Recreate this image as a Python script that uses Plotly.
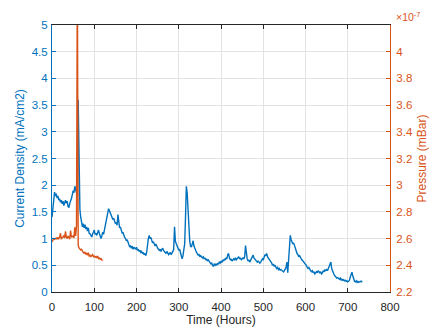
import plotly.graph_objects as go

# ---- data ----
hours_cd = list(range(0, 736, 2))
current_density = [
    1.40, 1.55, 1.75, 1.87, 1.80, 1.84, 1.76, 1.80, 1.72, 1.75,
    1.68, 1.72, 1.65, 1.70, 1.62, 1.68, 1.72, 1.66, 1.70, 1.60,
    1.58, 1.66, 1.70, 1.75, 1.82, 1.90, 1.86, 1.98, 1.92, 1.85,
    1.80, 3.60, 1.95, 1.55, 1.40, 1.30, 1.22, 1.28, 1.20, 1.26,
    1.18, 1.22, 1.14, 1.20, 1.10, 1.09, 1.05, 1.03, 1.08, 1.12,
    1.16, 1.08, 1.10, 1.06, 1.14, 1.16, 1.10, 1.04, 1.00, 1.05,
    1.12, 1.08, 1.16, 1.24, 1.30, 1.42, 1.50, 1.56, 1.52, 1.48,
    1.45, 1.40, 1.36, 1.38, 1.32, 1.28, 1.30, 1.25, 1.45, 1.26,
    1.20, 1.22, 1.14, 1.10, 1.12, 1.05, 1.02, 1.00, 0.96, 0.98,
    0.92, 0.88, 0.84, 0.86, 0.82, 0.86, 0.80, 0.84, 0.82, 0.80,
    0.84, 0.78, 0.80, 0.76, 0.78, 0.74, 0.76, 0.72, 0.74, 0.70,
    0.72, 0.68, 0.74, 0.90, 1.00, 1.06, 1.00, 1.02, 0.95, 0.92,
    0.94, 0.88, 0.86, 0.90, 0.84, 0.82, 0.80, 0.78, 0.80, 0.76,
    0.80, 0.82, 0.78, 0.76, 0.74, 0.72, 0.76, 0.74, 0.70, 0.72,
    0.74, 0.70, 0.72, 0.76, 0.80, 1.22, 0.95, 0.90, 0.86, 0.82,
    0.78, 0.80, 0.74, 0.66, 0.62, 0.68, 0.80, 0.90, 1.40, 1.98,
    1.85, 1.50, 1.20, 0.95, 0.86, 0.84, 0.90, 0.96, 0.86, 0.80,
    0.78, 0.74, 0.72, 0.69, 0.70, 0.66, 0.68, 0.66, 0.64, 0.66,
    0.62, 0.64, 0.60, 0.62, 0.58, 0.60, 0.56, 0.55, 0.53, 0.54,
    0.50, 0.48, 0.52, 0.50, 0.52, 0.50, 0.54, 0.52, 0.56, 0.54,
    0.58, 0.55, 0.60, 0.58, 0.62, 0.60, 0.64, 0.62, 0.70, 0.72,
    0.64, 0.60, 0.62, 0.58, 0.60, 0.62, 0.60, 0.64, 0.60, 0.62,
    0.64, 0.66, 0.62, 0.64, 0.60, 0.62, 0.64, 0.62, 0.66, 0.87,
    0.66, 0.62, 0.58, 0.60, 0.56, 0.60, 0.64, 0.66, 0.69, 0.64,
    0.62, 0.60, 0.58, 0.56, 0.58, 0.56, 0.54, 0.56, 0.58, 0.62,
    0.60, 0.66, 0.70, 0.68, 0.72, 0.66, 0.64, 0.62, 0.60, 0.56,
    0.54, 0.50, 0.52, 0.48, 0.50, 0.46, 0.44, 0.46, 0.42, 0.44,
    0.41, 0.42, 0.40, 0.38, 0.375, 0.40, 0.44, 0.46, 0.56, 0.36,
    0.60, 0.90, 1.06, 0.98, 0.94, 0.90, 0.92, 0.87, 0.80, 0.76,
    0.72, 0.70, 0.66, 0.68, 0.64, 0.62, 0.60, 0.58, 0.56, 0.55,
    0.52, 0.50, 0.46, 0.44, 0.46, 0.42, 0.40, 0.38, 0.40, 0.36,
    0.38, 0.34, 0.36, 0.38, 0.36, 0.40, 0.38, 0.36, 0.38, 0.34,
    0.36, 0.40, 0.38, 0.42, 0.40, 0.42, 0.40, 0.44, 0.48, 0.52,
    0.56, 0.44, 0.40, 0.34, 0.32, 0.30, 0.28, 0.26, 0.27, 0.25,
    0.24, 0.26, 0.22, 0.24, 0.22, 0.23, 0.21, 0.22, 0.20, 0.21,
    0.19, 0.20, 0.22, 0.28, 0.34, 0.37, 0.30, 0.22, 0.20, 0.19,
    0.21, 0.18, 0.20, 0.18, 0.19, 0.20, 0.19, 0.21,
]

hours_p = list(range(0, 121, 2))
# pressure in units of 1e-7 mBar
pressure_e7 = [
    2.575, 2.59, 2.60, 2.595, 2.60, 2.605, 2.595, 2.61, 2.60, 2.61,
    2.64, 2.60, 2.605, 2.61, 2.62, 2.605, 2.655, 2.61, 2.60, 2.62,
    2.60, 2.595, 2.66, 2.61, 2.615, 2.62, 2.605, 2.685, 2.62, 2.70,
    4.60, 2.55, 2.53, 2.525, 2.515, 2.52, 2.505, 2.495, 2.49, 2.50,
    2.485, 2.49, 2.475, 2.495, 2.47, 2.475, 2.465, 2.47, 2.48, 2.465,
    2.47, 2.46, 2.465, 2.455, 2.47, 2.45, 2.455, 2.445, 2.45, 2.44,
    2.435,
]

x_ticks = [0, 100, 200, 300, 400, 500, 600, 700, 800]
left_ticks = [0, 0.5, 1, 1.5, 2, 2.5, 3, 3.5, 4, 4.5, 5]
right_ticks = [2.2, 2.4, 2.6, 2.8, 3.0, 3.2, 3.4, 3.6, 3.8, 4.0]
right_labels = ["2.2", "2.4", "2.6", "2.8", "3", "3.2", "3.4", "3.6", "3.8", "4"]

BLUE = "#0072BD"
ORANGE = "#D95319"
AX = "#262626"
GRID = "#e3e3e3"
FONT = "Liberation Sans"

fig = go.Figure()
fig.add_trace(go.Scatter(x=hours_cd, y=current_density, mode="lines",
                         line=dict(color=BLUE, width=1.4), yaxis="y",
                         showlegend=False))
fig.add_trace(go.Scatter(x=hours_p, y=pressure_e7, mode="lines",
                         line=dict(color=ORANGE, width=1.4), yaxis="y2",
                         showlegend=False))

fig.update_layout(
    width=429, height=330,
    margin=dict(l=52, r=39, t=25, b=38),
    paper_bgcolor="white", plot_bgcolor="white",
    font=dict(family=FONT, size=11, color=AX),
    xaxis=dict(range=[0, 800], tickvals=x_ticks, showgrid=True, gridcolor=GRID,
               gridwidth=1, zeroline=False, showline=True, linecolor=AX,
               linewidth=1, mirror="ticks", ticks="inside", ticklen=4,
               tickcolor=AX, tickfont=dict(size=11.5, color=AX),
               ticklabelstandoff=4, automargin=False,
               title=dict(text="Time (Hours)", font=dict(size=12, color=AX),
                          standoff=3)),
    yaxis=dict(range=[0, 5], tickvals=left_ticks, showgrid=True, gridcolor=GRID,
               zeroline=False, showline=True, linecolor=BLUE, linewidth=1,
               ticks="inside", ticklen=4, tickcolor=BLUE, automargin=False,
               tickfont=dict(size=11.5, color=BLUE), ticklabelstandoff=1,
               title=dict(text="Current Density (mA/cm2)",
                          font=dict(size=12, color=BLUE), standoff=4)),
    yaxis2=dict(range=[2.2, 4.2], tickvals=right_ticks, ticktext=right_labels,
                overlaying="y", side="right", showgrid=False, zeroline=False,
                showline=True, linecolor=ORANGE, linewidth=1, ticks="inside",
                ticklen=4, tickcolor=ORANGE, ticklabelstandoff=3,
                automargin=False,
                tickfont=dict(size=11.5, color=ORANGE),
                title=dict(text="Pressure (mBar)",
                           font=dict(size=12, color=ORANGE), standoff=6)),
    annotations=[dict(text="\u00d710<sup>-7</sup>", xref="paper", yref="paper",
                      x=1.0, y=1.0, xanchor="left", yanchor="bottom",
                      xshift=4, yshift=0, showarrow=False,
                      font=dict(size=10.5, color=ORANGE))],
)

fig.write_html("out.html")
